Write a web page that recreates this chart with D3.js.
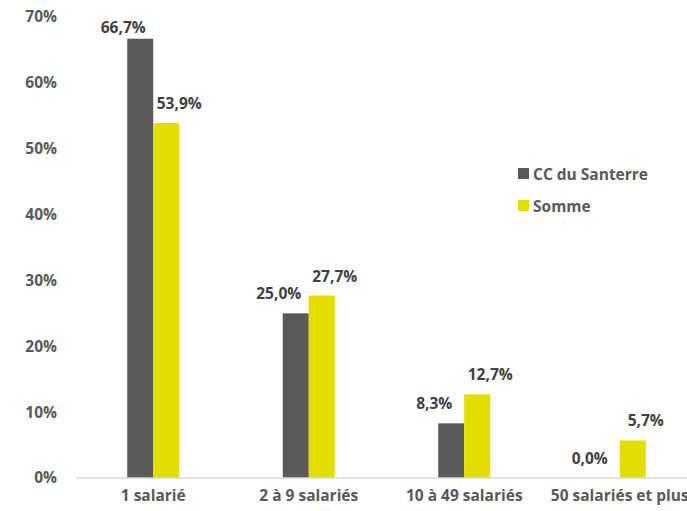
<!DOCTYPE html>
<html><head><meta charset="utf-8">
<script src="https://cdn.jsdelivr.net/npm/d3@7"></script>
<style>body{margin:0;background:#fff;}svg{display:block;font-family:"Open Sans",sans-serif;font-weight:700;}</style>
</head><body><svg id="c" width="687" height="511"></svg>
<script>
const categories = ["1 salarié", "2 à 9 salariés", "10 à 49 salariés", "50 salariés et plus"];
const seriesNames = ["CC du Santerre", "Somme"];
const santerre = [0.667, 0.25, 0.083, 0.0];
const somme = [0.539, 0.277, 0.127, 0.057];
const yTicks = [0, 0.1, 0.2, 0.3, 0.4, 0.5, 0.6, 0.7];
const colors = ["#595959", "#e3dd00"];

const svg = d3.select("#c");
const y = d3.scaleLinear().domain([0, 0.7]).range([478, 17]);
const x = d3.scaleBand().domain(categories).range([75.5, 697.5]).padding(0);
const x1 = d3.scaleBand().domain(seriesNames).range([0, 52]);
const fmt = v => d3.format(".1f")(v * 100).replace(".", ",") + "%";

const data = [santerre, somme];
const labelDx = [-17, 13];
const fs = "15.5px";

// bars
seriesNames.forEach((s, si) => {
  svg.append("g").selectAll("rect").data(categories).join("rect")
    .attr("x", c => x(c) + x.bandwidth() / 2 - 26 + x1(s))
    .attr("y", (c, i) => y(data[si][i]))
    .attr("width", x1.bandwidth())
    .attr("height", (c, i) => y(0) - y(data[si][i]))
    .attr("fill", colors[si]);
});

// axis line
svg.append("line").attr("x1", 76).attr("x2", 687).attr("y1", y(0)).attr("y2", y(0))
  .attr("stroke", "#d9d9d9").attr("stroke-width", 1.5);

// y tick labels
const yAxis = d3.axisLeft(y).tickValues(yTicks).tickFormat(d3.format(".0%")).tickSize(0).tickPadding(0);
const ya = svg.append("g").attr("transform", "translate(57,0)").call(yAxis);
ya.select(".domain").remove();
ya.selectAll("text").attr("fill", "#595959").style("font-size", fs).style("font-family", "Open Sans").style("font-weight", 700);

// x category labels
const xAxis = d3.axisBottom(x).tickSize(0).tickPadding(0);
const xa = svg.append("g").attr("transform", "translate(0,490)").call(xAxis);
xa.select(".domain").remove();
xa.selectAll("text").attr("fill", "#595959").style("font-size", fs).style("font-family", "Open Sans").style("font-weight", 700);

// data labels (kept inside the plot area at the top)
seriesNames.forEach((s, si) => {
  svg.append("g").selectAll("text").data(categories).join("text")
    .attr("x", c => x(c) + x.bandwidth() / 2 - 26 + x1(s) + x1.bandwidth() / 2 + labelDx[si])
    .attr("y", (c, i) => Math.max(y(data[si][i]) - 20, 27))
    .attr("text-anchor", "middle").attr("dominant-baseline", "central")
    .attr("fill", "#404040").style("font-size", fs)
    .text((c, i) => fmt(data[si][i]));
});

// legend
const lg = svg.append("g").attr("transform", "translate(518,168)");
seriesNames.forEach((s, si) => {
  const g = lg.append("g").attr("transform", `translate(0,${si * 32})`);
  g.append("rect").attr("width", 11).attr("height", 11).attr("fill", colors[si]);
  g.append("text").attr("x", 15).attr("y", 6).attr("dominant-baseline", "central")
    .attr("fill", "#595959").style("font-size", fs).text(s);
});
</script></body></html>
